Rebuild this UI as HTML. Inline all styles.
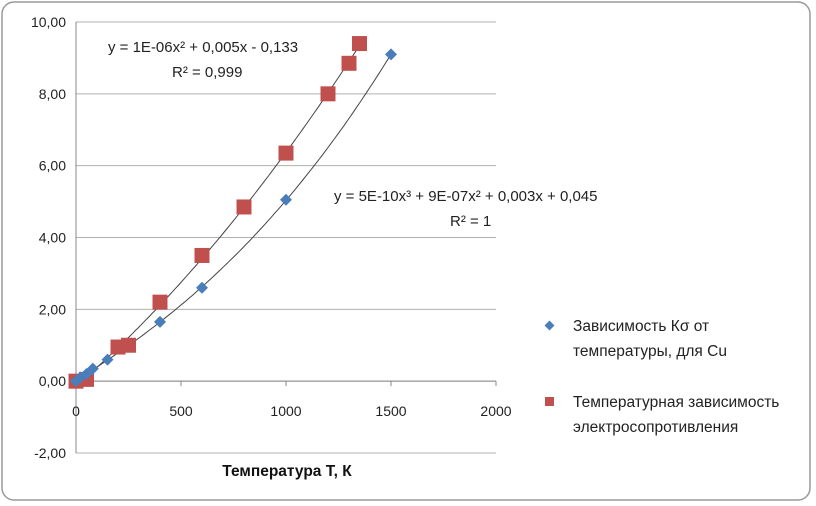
<!DOCTYPE html>
<html><head><meta charset="utf-8"><style>
body{margin:0;background:#fff;}
svg{display:block;font-family:"Liberation Sans","DejaVu Sans",sans-serif;}
</style></head><body>
<svg id="chart" width="816" height="506">
<rect x="2" y="2" width="808" height="498" rx="12" fill="#fff" stroke="#9a9a9a" stroke-width="1.5"/>
<g id="grid"></g><g id="axes"></g><g id="trend"></g><g id="marks"></g>
<text x="108" y="52" font-size="15" fill="#222">y = 1E-06x² + 0,005x - 0,133</text>
<text x="172" y="77" font-size="15" fill="#222">R² = 0,999</text>
<text x="334" y="201" font-size="15" fill="#222">y = 5E-10x³ + 9E-07x² + 0,003x + 0,045</text>
<text x="450" y="226" font-size="15" fill="#222">R² = 1</text>
<text x="287" y="476" font-size="15.5" font-weight="bold" text-anchor="middle" fill="#111">Температура Т, К</text>
<g>
<g>
<rect x="546" y="322" width="7" height="7" fill="#4a7ebb" transform="rotate(45 549.5 325.5)"/>
<text x="573" y="331" font-size="15.5" fill="#222">Зависимость Кσ от</text>
<text x="573" y="356" font-size="15.5" fill="#222">температуры, для Cu</text>
</g>
<g>
<rect x="545" y="397" width="9" height="9" fill="#c0504d"/>
<text x="573" y="407" font-size="15.5" fill="#222">Температурная зависимость</text>
<text x="573" y="432" font-size="15.5" fill="#222">электросопротивления</text>
</g>
</g>
</svg>
<script>
const xTicks=[0,500,1000,1500,2000];
const yTicks=[-2,0,2,4,6,8,10];
const yTickLabels=["-2,00","0,00","2,00","4,00","6,00","8,00","10,00"];
const blueT=[0,20,50,80,150,400,600,1000,1500];
const blueK=[0,0.1,0.2,0.35,0.6,1.65,2.6,5.05,9.1];
const redT=[0,50,200,250,400,600,800,1000,1200,1300,1350];
const redR=[0,0.05,0.95,1.0,2.2,3.5,4.85,6.35,8.0,8.85,9.4];
const NS="http://www.w3.org/2000/svg";
const X0=76,X1=496,Y0=22,Y1=453;
function sx(v){return X0+(v-0)/(2000-0)*(X1-X0);}
function sy(v){return Y1-(v-(-2))/(10-(-2))*(Y1-Y0);}
function mk(tag,attrs,parent){const e=document.createElementNS(NS,tag);for(const k in attrs)e.setAttribute(k,attrs[k]);document.getElementById(parent).appendChild(e);return e;}
yTicks.forEach((v,i)=>{
 const l=mk('line',{x1:X0,x2:X1,y1:sy(v),y2:sy(v),stroke:'#b0b0b0','stroke-width':1},'grid');
 
 
 const t=mk('text',{x:X0-10,y:sy(v)+5,'font-size':14,'text-anchor':'end',fill:'#222'},'axes');
 t.textContent=yTickLabels[i];
 
 
});
const ya=mk('line',{x1:X0,x2:X0,y1:Y0,y2:Y1,stroke:'#888'},'axes');


const xa=mk('line',{x1:X0,x2:X1,y1:sy(0),y2:sy(0),stroke:'#888'},'axes');


xTicks.forEach(v=>{
 const tk=mk('line',{x1:sx(v),x2:sx(v),y1:sy(0),y2:sy(0)+5,stroke:'#888'},'axes');
 
 
 const t=mk('text',{x:sx(v),y:sy(0)+35,'font-size':14,'text-anchor':'middle',fill:'#222'},'axes');
 t.textContent=String(v);
 
 
});
function polyfit(xs,ys,deg){
 const n=deg+1,A=[],b=[];
 for(let i=0;i<n;i++){A.push(new Array(n).fill(0));b.push(0);}
 const s=1000;
 xs.forEach((x,k)=>{const xx=x/s;for(let i=0;i<n;i++){for(let j=0;j<n;j++)A[i][j]+=Math.pow(xx,i+j);b[i]+=ys[k]*Math.pow(xx,i);}});
 for(let i=0;i<n;i++){let p=i;for(let r=i+1;r<n;r++)if(Math.abs(A[r][i])>Math.abs(A[p][i]))p=r;[A[i],A[p]]=[A[p],A[i]];[b[i],b[p]]=[b[p],b[i]];
  for(let r=i+1;r<n;r++){const f=A[r][i]/A[i][i];for(let c=i;c<n;c++)A[r][c]-=f*A[i][c];b[r]-=f*b[i];}}
 const c=new Array(n).fill(0);
 for(let i=n-1;i>=0;i--){let s2=b[i];for(let j=i+1;j<n;j++)s2-=A[i][j]*c[j];c[i]=s2/A[i][i];}
 return x=>c.reduce((acc,ci,i)=>acc+ci*Math.pow(x/s,i),0);
}
function trend(xs,ys,deg,name){
 const f=polyfit(xs,ys,deg);const lo=Math.min(...xs),hi=Math.max(...xs);let d='';
 for(let i=0;i<=100;i++){const x=lo+(hi-lo)*i/100;d+=(i?'L':'M')+sx(x).toFixed(1)+','+sy(f(x)).toFixed(1);}
 const p=mk('path',{d:d,fill:'none',stroke:'#444','stroke-width':1},'trend');
 
 
}
trend(blueT,blueK,3,'trendline-blue');
trend(redT,redR,2,'trendline-red');
redT.forEach((v,i)=>{
 const r=mk('rect',{x:sx(v)-7.5,y:sy(redR[i])-7.5,width:15,height:15,fill:'#c0504d'},'marks');
 
 
});
blueT.forEach((v,i)=>{
 const cx=sx(v),cy=sy(blueK[i]);
 const p=mk('polygon',{points:`${cx},${cy-6} ${cx+6},${cy} ${cx},${cy+6} ${cx-6},${cy}`,fill:'#4a7ebb'},'marks');
 
 
});
</script>
</body></html>
